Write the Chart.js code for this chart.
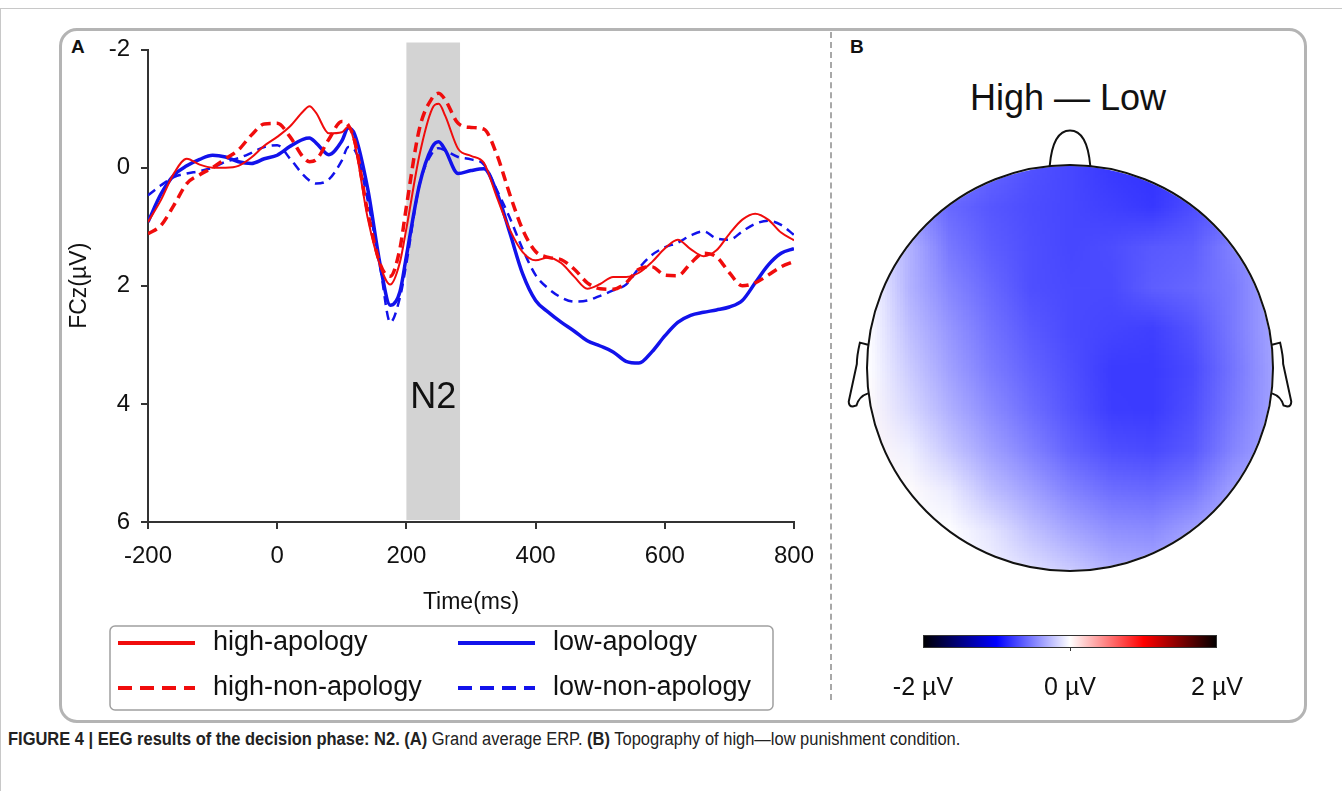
<!DOCTYPE html>
<html lang="en">
<head>
<meta charset="UTF-8">
<title>FIGURE 4 | EEG results of the decision phase: N2</title>
<script src="https://cdn.jsdelivr.net/npm/chart.js"></script>
<style>
  body { margin: 0; background: #fff; font-family: "Liberation Sans", Arial, sans-serif; }
  #fig { position: relative; width: 1342px; height: 791px; overflow: hidden; }
  .outer { position: absolute; left: 0; top: 8px; width: 1342px; height: 790px; border-top: 1px solid #c8c8c8; border-left: 1px solid #c8c8c8; box-sizing: border-box; }
  .panel { position: absolute; left: 59px; top: 28px; width: 1248px; height: 695px; border: 3px solid #b4b4b4; border-radius: 18px; box-sizing: border-box; }
  .sep { position: absolute; left: 830px; top: 32px; height: 668px; border-left: 2px dashed #a8a8a8; }
  .lab { position: absolute; font-weight: bold; font-size: 19px; line-height: 19px; color: #111; }
  .topo-title { position: absolute; left: 868px; width: 400px; top: 78px; text-align: center; font-size: 36px; line-height: 40px; color: #111; }
  canvas { position: absolute; }
  .caption { position: absolute; left: 8px; top: 729px; font-size: 18px; color: #222; white-space: nowrap; transform: scaleX(0.915); transform-origin: left center; }
</style>
</head>
<body>
<div id="fig">
  <div class="outer"></div>
  <div class="panel"></div>
  <div class="sep"></div>
  <div class="lab" style="left:71px;top:37px">A</div>
  <div class="lab" style="left:850px;top:37px">B</div>
  <div class="topo-title">High — Low</div>
  <canvas id="erp" width="830" height="725" style="left:0;top:0"></canvas>
  <canvas id="topo" width="460" height="490" style="left:840px;top:110px"></canvas>
  <canvas id="cbar" width="400" height="90" style="left:870px;top:620px"></canvas>
  <div class="caption"><b>FIGURE 4 | EEG results of the decision phase: N2. (A)</b> Grand average ERP. <b>(B)</b> Topography of high—low punishment condition.</div>
</div>
<script>
// ERP waveforms at FCz (µV)
const times = [-200, -180, -160, -140, -120, -100, -80, -60, -40, -20,
  0, 20, 40, 50, 60, 80, 100, 110, 120, 140,
  160, 175, 190, 200, 220, 240, 250, 260, 280,
  300, 320, 340, 360, 380, 400, 420, 440, 460, 480,
  500, 520, 540, 560, 580, 600, 620, 640, 660, 680,
  700, 720, 740, 760, 780, 800];

const highApology = [0.92, 0.55, 0.10, -0.15, -0.05, 0.00, 0.00, -0.03, -0.17, -0.37,
  -0.52, -0.70, -0.95, -1.04, -0.93, -0.58, -0.60, -0.69, -0.40, 0.85,
  1.68, 1.98, 1.60, 1.03, -0.20, -1.00, -1.08, -0.88, -0.32,
  -0.20, -0.08, 0.50, 1.05, 1.43, 1.57, 1.52, 1.62, 1.85, 2.05,
  1.97, 1.85, 1.85, 1.78, 1.60, 1.37, 1.22, 1.38, 1.50, 1.40,
  1.12, 0.88, 0.78, 0.88, 1.10, 1.23];

const highNonApology = [1.12, 0.98, 0.64, 0.27, 0.12, 0.00, -0.15, -0.30, -0.55, -0.74,
  -0.75, -0.52, -0.18, -0.10, -0.13, -0.48, -0.78, -0.72, -0.45, 0.75,
  1.65, 1.84, 1.37, 0.66, -0.65, -1.18, -1.26, -1.15, -0.75,
  -0.68, -0.65, -0.22, 0.45, 1.05, 1.42, 1.52, 1.56, 1.72, 1.95,
  2.05, 2.06, 1.95, 1.72, 1.68, 1.82, 1.83, 1.62, 1.45, 1.51,
  1.78, 2.00, 1.95, 1.82, 1.68, 1.59];

const lowApology = [0.92, 0.45, 0.13, -0.03, -0.14, -0.21, -0.18, -0.10, -0.07, -0.15,
  -0.21, -0.36, -0.48, -0.50, -0.42, -0.22, -0.45, -0.67, -0.56, 0.35,
  1.68, 2.33, 2.10, 1.50, 0.30, -0.35, -0.44, -0.30, 0.10,
  0.05, 0.02, 0.42, 1.10, 1.80, 2.25, 2.45, 2.62, 2.77, 2.93,
  3.02, 3.12, 3.28, 3.31, 3.12, 2.85, 2.62, 2.50, 2.45, 2.41,
  2.36, 2.25, 1.95, 1.65, 1.45, 1.37];

const lowNonApology = [0.47, 0.30, 0.16, 0.10, 0.06, 0.00, -0.10, -0.16, -0.25, -0.35,
  -0.38, -0.15, 0.12, 0.22, 0.27, 0.20, -0.12, -0.35, -0.30, 0.55,
  1.72, 2.62, 2.20, 1.62, 0.30, -0.25, -0.33, -0.29, -0.18,
  -0.14, -0.05, 0.38, 0.85, 1.38, 1.82, 2.05, 2.20, 2.27, 2.25,
  2.17, 2.08, 1.98, 1.70, 1.48, 1.35, 1.27, 1.15, 1.08, 1.20,
  1.22, 1.08, 0.95, 0.90, 0.97, 1.14];

const n2Window = [200, 283];

// topography high - low (µV), coarse grid over the head, front row first
const topoCols = [-1, -0.8, -0.6, -0.4, -0.2, 0, 0.2, 0.4, 0.6, 0.8, 1];
const topoRows = [1, 0.8, 0.6, 0.4, 0.2, 0, -0.2, -0.4, -0.6, -0.8, -1];
const topoValues = [
  [-0.30, -0.40, -0.50, -0.60, -0.68, -0.72, -0.78, -0.80, -0.75, -0.70, -0.60],
  [-0.30, -0.42, -0.59, -0.66, -0.70, -0.72, -0.75, -0.78, -0.70, -0.60, -0.50],
  [-0.05, -0.30, -0.53, -0.63, -0.69, -0.72, -0.70, -0.65, -0.63, -0.49, -0.38],
  [0.00, -0.30, -0.47, -0.59, -0.69, -0.71, -0.71, -0.63, -0.60, -0.52, -0.35],
  [0.00, -0.25, -0.41, -0.55, -0.65, -0.71, -0.73, -0.75, -0.67, -0.52, -0.35],
  [0.00, -0.20, -0.37, -0.51, -0.61, -0.69, -0.77, -0.77, -0.71, -0.54, -0.36],
  [0.02, -0.15, -0.31, -0.45, -0.57, -0.67, -0.76, -0.77, -0.69, -0.52, -0.36],
  [0.03, -0.06, -0.22, -0.37, -0.49, -0.61, -0.69, -0.71, -0.65, -0.48, -0.35],
  [0.03, 0.01, -0.08, -0.25, -0.37, -0.49, -0.57, -0.59, -0.53, -0.37, -0.28],
  [0.00, 0.00, 0.00, -0.10, -0.24, -0.35, -0.43, -0.45, -0.37, -0.30, -0.22],
  [0.00, 0.00, 0.00, -0.05, -0.12, -0.20, -0.30, -0.33, -0.28, -0.22, -0.18]
];

// colour map of the scale bar
const cmapValues = [-2, -1, 0, 1, 2];
const cmapRGB = [[0, 0, 0], [0, 0, 255], [255, 255, 255], [255, 0, 0], [0, 0, 0]];
const colorTicks = [-2, 0, 2];

const RED = 'rgb(240,12,12)';
const BLUE = 'rgb(18,18,235)';
const FONT = '"Liberation Sans", Arial, sans-serif';

Chart.defaults.font.family = FONT;
Chart.defaults.color = '#111';

function cmapColor(v) {
  if (v <= cmapValues[0]) return cmapRGB[0];
  for (let i = 1; i < cmapValues.length; i++) {
    if (v <= cmapValues[i]) {
      const f = (v - cmapValues[i - 1]) / (cmapValues[i] - cmapValues[i - 1]);
      return cmapRGB[i].map((c, k) => Math.round(cmapRGB[i - 1][k] + (c - cmapRGB[i - 1][k]) * f));
    }
  }
  return cmapRGB[cmapRGB.length - 1];
}

// ---- panel A ----
const shadePlugin = {
  id: 'n2shade',
  beforeDatasetsDraw(chart) {
    const {ctx, scales: {x, y}} = chart;
    const x0 = x.getPixelForValue(n2Window[0]);
    const x1 = x.getPixelForValue(n2Window[1]);
    const top = y.getPixelForValue(y.min) - 7;
    const bot = y.getPixelForValue(y.max) - 2;
    ctx.save();
    ctx.fillStyle = '#d3d3d3';
    ctx.fillRect(x0, top, x1 - x0, bot - top);
    ctx.fillStyle = '#111';
    ctx.font = '36px ' + FONT;
    ctx.textAlign = 'center';
    ctx.textBaseline = 'middle';
    ctx.fillText('N2', (x0 + x1) / 2, y.getPixelForValue(3.9));
    ctx.restore();
  }
};

const boxLegend = {
  id: 'boxLegend',
  afterDraw(chart) {
    const ctx = chart.ctx;
    ctx.save();
    ctx.strokeStyle = '#a0a0a0';
    ctx.lineWidth = 1.5;
    ctx.beginPath();
    ctx.roundRect(110, 626, 663, 84, 5);
    ctx.stroke();
    // two columns: high on the left, low on the right
    [0, 2, 1, 3].forEach((di, k) => {
      const ds = chart.data.datasets[di];
      const x0 = k % 2 ? 458 : 118;
      const yy = k < 2 ? 643 : 688;
      ctx.strokeStyle = ds.borderColor;
      ctx.lineWidth = 4;
      ctx.setLineDash(ds.borderDash.length ? [14, 8] : []);
      ctx.beginPath();
      ctx.moveTo(x0, yy);
      ctx.lineTo(x0 + 77, yy);
      ctx.stroke();
      ctx.setLineDash([]);
      ctx.fillStyle = '#111';
      ctx.font = '27px ' + FONT;
      ctx.textBaseline = 'middle';
      ctx.fillText(ds.label, x0 + 95, yy);
    });
    ctx.restore();
  }
};

function series(label, values, color, width, dash) {
  return {
    label: label,
    data: times.map((t, i) => ({x: t, y: values[i]})),
    borderColor: color,
    borderWidth: width,
    borderDash: dash,
    pointRadius: 0,
    cubicInterpolationMode: 'monotone',
    fill: false
  };
}

new Chart(document.getElementById('erp'), {
  type: 'line',
  data: {
    datasets: [
      series('high-apology', highApology, RED, 2, []),
      series('high-non-apology', highNonApology, RED, 3.5, [10, 6]),
      series('low-apology', lowApology, BLUE, 3.5, []),
      series('low-non-apology', lowNonApology, BLUE, 2.5, [9, 6])
    ]
  },
  options: {
    responsive: false,
    animation: false,
    layout: {padding: {left: 62, right: 36, top: 49.5, bottom: 105}},
    plugins: {legend: {display: false}, tooltip: {enabled: false}},
    scales: {
      x: {
        type: 'linear',
        min: -200,
        max: 800,
        ticks: {stepSize: 200, padding: 13, font: {size: 24}, color: '#111'},
        grid: {drawOnChartArea: false, tickLength: 7, color: '#333', lineWidth: 2},
        border: {color: '#333', width: 2},
        title: {display: true, text: 'Time(ms)', font: {size: 23}, color: '#111'},
        afterFit: s => { s.height = 98; }
      },
      y: {
        reverse: true,
        min: -2,
        max: 6,
        ticks: {stepSize: 2, padding: 11, font: {size: 24}, color: '#111'},
        grid: {drawOnChartArea: false, tickLength: 7, color: '#333', lineWidth: 2},
        border: {color: '#333', width: 2},
        title: {display: true, text: 'FCz(µV)', font: {size: 23}, color: '#111'},
        afterFit: s => { s.width = 86; }
      }
    }
  },
  plugins: [shadePlugin, boxLegend]
});

// ---- panel B: topography ----
const headPlugin = {
  id: 'head',
  beforeDatasetsDraw(chart) {
    const {ctx, scales: {x, y}} = chart;
    const n = topoCols.length, m = topoRows.length;
    const off = document.createElement('canvas');
    off.width = n;
    off.height = m;
    const octx = off.getContext('2d');
    const img = octx.createImageData(n, m);
    topoValues.forEach((row, j) => row.forEach((v, i) => {
      const c = cmapColor(v);
      const k = (j * n + i) * 4;
      img.data[k] = c[0];
      img.data[k + 1] = c[1];
      img.data[k + 2] = c[2];
      img.data[k + 3] = 255;
    }));
    octx.putImageData(img, 0, 0);

    const dx = (topoCols[1] - topoCols[0]) / 2;
    const dy = (topoRows[0] - topoRows[1]) / 2;
    const left = x.getPixelForValue(topoCols[0] - dx);
    const right = x.getPixelForValue(topoCols[n - 1] + dx);
    const top = y.getPixelForValue(topoRows[0] + dy);
    const bottom = y.getPixelForValue(topoRows[m - 1] - dy);
    const cx = x.getPixelForValue(0), cy = y.getPixelForValue(0);
    const r = x.getPixelForValue(1) - cx;

    ctx.save();
    ctx.beginPath();
    ctx.arc(cx, cy, r - 1, 0, Math.PI * 2);
    ctx.clip();
    ctx.imageSmoothingEnabled = true;
    ctx.drawImage(off, left, top, right - left, bottom - top);
    ctx.restore();

    const P = (u, v) => [x.getPixelForValue(u), y.getPixelForValue(v)];
    ctx.save();
    ctx.strokeStyle = '#111';
    ctx.lineWidth = 2;
    ctx.beginPath();
    ctx.arc(cx, cy, r, 0, Math.PI * 2);
    ctx.stroke();

    // nose
    ctx.beginPath();
    ctx.moveTo(...P(-0.1, 0.995));
    ctx.bezierCurveTo(...P(-0.09, 1.11), ...P(-0.06, 1.17), ...P(0, 1.17));
    ctx.bezierCurveTo(...P(0.06, 1.17), ...P(0.09, 1.11), ...P(0.1, 0.995));
    ctx.stroke();

    // ears
    [-1, 1].forEach(sd => {
      ctx.beginPath();
      ctx.moveTo(...P(sd * 0.995, 0.115));
      ctx.lineTo(...P(sd * 1.035, 0.125));
      ctx.quadraticCurveTo(...P(sd * 1.05, 0.06), ...P(sd * 1.05, 0.02));
      ctx.lineTo(...P(sd * 1.09, -0.165));
      ctx.quadraticCurveTo(...P(sd * 1.09, -0.19), ...P(sd * 1.07, -0.19));
      ctx.lineTo(...P(sd * 1.052, -0.185));
      ctx.quadraticCurveTo(...P(sd * 1.04, -0.14), ...P(sd * 0.995, -0.125));
      ctx.stroke();
    });
    ctx.restore();
  }
};

new Chart(document.getElementById('topo'), {
  type: 'scatter',
  data: {datasets: [{data: [], pointRadius: 0}]},
  options: {
    responsive: false,
    animation: false,
    layout: {padding: {left: 6.7, right: 6.7, top: 34.7, bottom: 8.7}},
    plugins: {legend: {display: false}, tooltip: {enabled: false}},
    scales: {
      x: {type: 'linear', min: -1.1, max: 1.1, display: false},
      y: {type: 'linear', min: -1.1, max: 1.1, display: false}
    }
  },
  plugins: [headPlugin]
});

// ---- colour scale ----
const barPlugin = {
  id: 'colorbar',
  beforeDatasetsDraw(chart) {
    const {ctx, chartArea: a, scales: {x}} = chart;
    const g = ctx.createLinearGradient(x.getPixelForValue(x.min), 0, x.getPixelForValue(x.max), 0);
    cmapValues.forEach((v, i) => {
      g.addColorStop((v - x.min) / (x.max - x.min), 'rgb(' + cmapRGB[i].join(',') + ')');
    });
    ctx.save();
    ctx.fillStyle = g;
    ctx.fillRect(a.left, a.top, a.right - a.left, a.bottom - a.top);
    ctx.strokeStyle = '#333';
    ctx.lineWidth = 1;
    ctx.strokeRect(a.left + 0.5, a.top + 0.5, a.right - a.left - 1, a.bottom - a.top - 1);
    const x0 = Math.round(x.getPixelForValue(0)) + 0.5;
    ctx.beginPath();
    ctx.moveTo(x0, a.bottom);
    ctx.lineTo(x0, a.bottom + 3);
    ctx.stroke();
    ctx.restore();
  }
};

new Chart(document.getElementById('cbar'), {
  type: 'scatter',
  data: {datasets: [{data: [], pointRadius: 0}]},
  options: {
    responsive: false,
    animation: false,
    layout: {padding: {left: 53, right: 53, top: 15, bottom: 0}},
    plugins: {legend: {display: false}, tooltip: {enabled: false}},
    scales: {
      x: {
        type: 'linear',
        min: -2,
        max: 2,
        grid: {display: false},
        border: {display: false},
        afterBuildTicks: s => { s.ticks = colorTicks.map(v => ({value: v})); },
        ticks: {padding: 17, font: {size: 25}, color: '#111', autoSkip: false, maxRotation: 0, callback: v => v + ' µV'},
        afterFit: s => { s.height = 62; }
      },
      y: {type: 'linear', min: 0, max: 1, display: false}
    }
  },
  plugins: [barPlugin]
});
</script>
</body>
</html>
